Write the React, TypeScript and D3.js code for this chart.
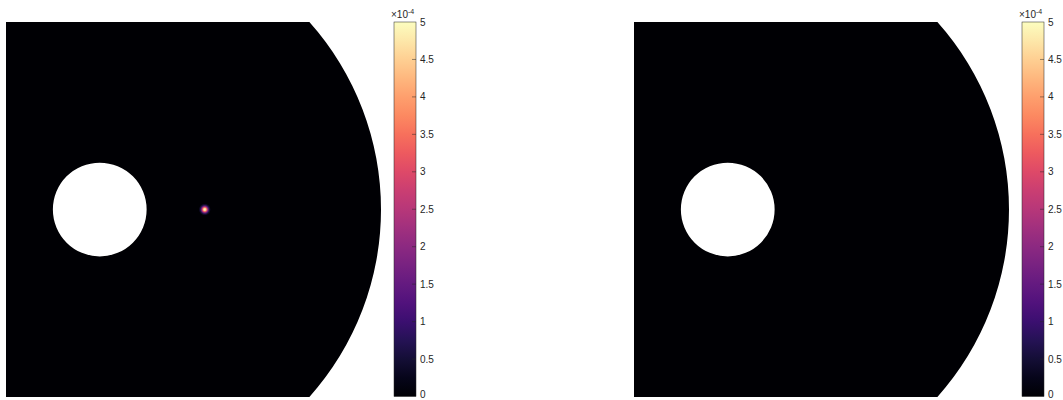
import React from "react";
import * as d3 from "d3";

// Panels (left: with a point source, right: without)
const panelNames = ["withSource", "noSource"];
const panelOffsets = [0, 628];
const sourceCount = [1, 0];

// Domain geometry (data units)
const xDomain = [-1, 3];
const yDomain = [-2, 2];
const holeRadius = 0.5;
const outerRadius = 3;

// Point source
const sourceX = [1.12];
const sourceY = [0];
// radial profile of the source (distance in data units, value)
const profileDist = [0, 0.012, 0.024, 0.036, 0.05, 0.065];
const profileVal = [5e-4, 4.6e-4, 3.2e-4, 1.6e-4, 0.5e-4, 0];

// Colorbar
const cMax = 5e-4;
const cbTicks = [0, 0.5, 1, 1.5, 2, 2.5, 3, 3.5, 4, 4.5, 5];
const cbLabels = ["0", "0.5", "1", "1.5", "2", "2.5", "3", "3.5", "4", "4.5", "5"];

const color = (v: number) => d3.interpolateMagma(Math.max(0, Math.min(1, v / cMax)));

function Panel({ idx }: { idx: number }) {
  const off = panelOffsets[idx];
  const x = d3.scaleLinear().domain(xDomain).range([6 + off, 381 + off]);
  const y = d3.scaleLinear().domain(yDomain).range([397, 22]);
  const pxPerUnit = x(1) - x(0);
  const cx = x(0), cy = y(0);
  const Rpx = outerRadius * pxPerUnit;
  const xc = Math.sqrt(outerRadius * outerRadius - yDomain[1] * yDomain[1]);
  const a = Math.atan2(y(yDomain[1]) - cy, x(xc) - cx);
  const p = d3.path();
  p.moveTo(x(xDomain[0]), y(yDomain[1]));
  p.lineTo(x(xc), y(yDomain[1]));
  p.arc(cx, cy, Rpx, a, -a, false);
  p.lineTo(x(xDomain[0]), y(yDomain[0]));
  p.closePath();
  const rh = holeRadius * pxPerUnit;
  p.moveTo(cx + rh, cy);
  p.arc(cx, cy, rh, 0, Math.PI * 2, false);
  p.closePath();

  const gid = `src-${panelNames[idx]}`;
  const cbid = `cb-${panelNames[idx]}`;
  const maxD = profileDist[profileDist.length - 1];

  const cbX = 394 + off;
  const cbW = 22;
  const cy2 = d3.scaleLinear().domain([0, 5]).range([396.5, 22]);
  const gradStops = d3.range(0, 1.0001, 0.05);

  return (
    <g>
      <defs>
        <radialGradient id={gid}>
          {profileDist.map((d, i) => (
            <stop key={i} offset={d / maxD} stopColor={color(profileVal[i])} />
          ))}
        </radialGradient>
        <linearGradient id={cbid} x1="0" y1="1" x2="0" y2="0">
          {gradStops.map((t, i) => (
            <stop key={i} offset={t} stopColor={d3.interpolateMagma(t)} />
          ))}
        </linearGradient>
      </defs>
      <path d={p.toString()} fill={color(0)} fillRule="evenodd" />
      {sourceX.slice(0, sourceCount[idx]).map((sx, i) => (
        <circle key={i} cx={x(sx)} cy={y(sourceY[i])} r={maxD * pxPerUnit} fill={`url(#${gid})`} />
      ))}
      <rect x={cbX} y={cy2(5)} width={cbW} height={cy2(0) - cy2(5)} fill={`url(#${cbid})`} stroke="#262626" strokeWidth={0.5} />
      {cbTicks.map((t, i) => (
        <g key={i}>
          {t > 0 && t < 5 && (
            <line x1={cbX + cbW - 4} x2={cbX + cbW} y1={cy2(t)} y2={cy2(t)} stroke="#262626" strokeWidth={0.5} />
          )}
          <text x={cbX + cbW + 4} y={Math.min(cy2(t), 394)} dy="0.35em" fontSize={10} fill="#262626" fontFamily="Liberation Sans, Arial, sans-serif">
            {cbLabels[i]}
          </text>
        </g>
      ))}
      <text x={cbX - 3} y={18} fontSize={10} fill="#262626" fontFamily="Liberation Sans, Arial, sans-serif">
        ×10
        <tspan fontSize={7} dy={-4}>-4</tspan>
      </text>
    </g>
  );
}

export default function App() {
  return (
    <svg width={1063} height={400} style={{ position: "absolute", left: 0, top: 0, background: "#fff" }}>
      {panelNames.map((_, i) => (
        <Panel key={i} idx={i} />
      ))}
    </svg>
  );
}
